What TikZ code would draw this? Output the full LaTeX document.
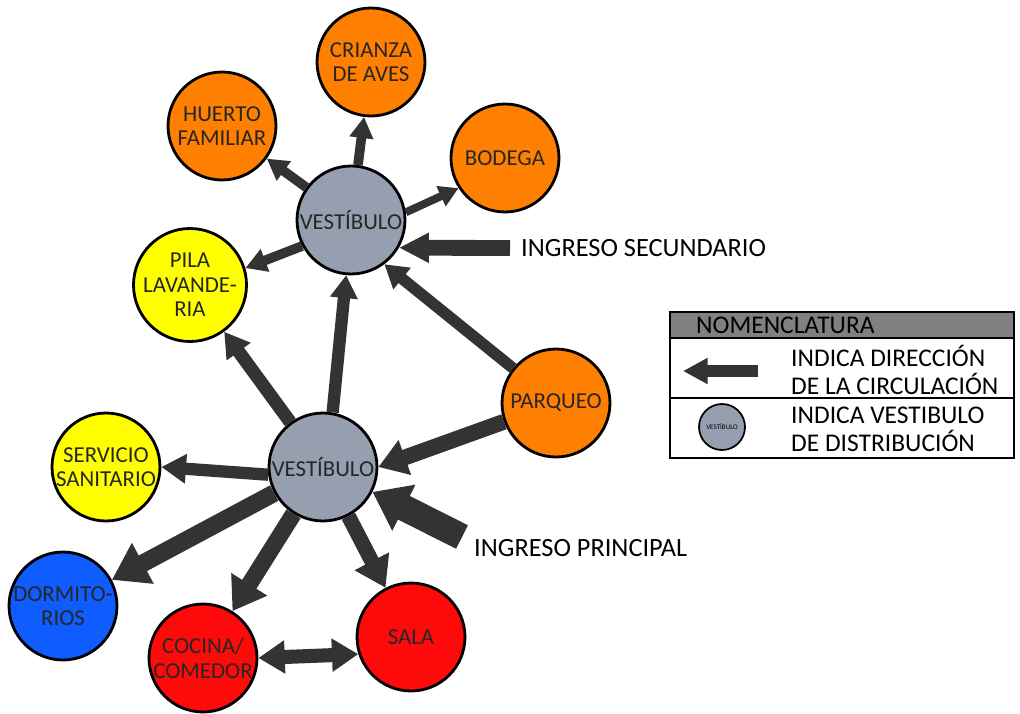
\documentclass[tikz,border=0pt]{standalone}
\usepackage{fontspec}
\setmainfont{Carlito}
\usetikzlibrary{arrows.meta}
\definecolor{naranja}{HTML}{FF8000}
\definecolor{amarillo}{HTML}{FFFF00}
\definecolor{azul}{HTML}{0F5CFF}
\definecolor{rojo}{HTML}{FF0A0A}
\definecolor{vestgris}{HTML}{969FAF}
\definecolor{flechagris}{HTML}{333333}
\definecolor{cabecera}{HTML}{808080}
\begin{document}
\begin{tikzpicture}[x=0.02cm, y=-0.02cm,
    espacio/.style={circle, draw=black, line width=1.6pt, minimum size=2.16cm,
      inner sep=0pt, align=center, text=black!85,
      font=\fontsize{13}{14}\selectfont},
    flecha/.style n args={3}{draw=flechagris, line width=#1,
      -{Triangle[length=#2, width=#3]}},
    leyenda/.style={anchor=west, align=left, font=\fontsize{14.5}{16}\selectfont},
    ingreso/.style={anchor=west, font=\fontsize{15}{17}\selectfont}]
  \useasboundingbox (0,0) rectangle (1020,713);

  % espacios
  \node[espacio, fill=naranja] (crianza) at (371,62) {CRIANZA\\DE AVES};
  \node[espacio, fill=naranja] (huerto) at (222,126) {HUERTO\\FAMILIAR};
  \node[espacio, fill=naranja] (bodega) at (505,158) {BODEGA};
  \node[espacio, fill=vestgris] (vestsec) at (351,220) {VESTÍBULO};
  \node[espacio, fill=amarillo] (pila) at (190,285) {PILA\\LAVANDE-\\RIA};
  \node[espacio, fill=naranja] (parqueo) at (556,403) {PARQUEO};
  \node[espacio, fill=vestgris] (vestppal) at (323,467) {VESTÍBULO};
  \node[espacio, fill=amarillo] (sanitario) at (106,467) {SERVICIO\\SANITARIO};
  \node[espacio, fill=azul] (dormitorios) at (63,606) {DORMITO-\\RIOS};
  \node[espacio, fill=rojo] (cocina) at (203,658) {COCINA/\\COMEDOR};
  \node[espacio, fill=rojo] (sala) at (411,637) {SALA};

  % circulacion
  \draw[flecha={5.5pt}{12pt}{13pt}] (vestsec) -- (huerto);
  \draw[flecha={5.5pt}{12pt}{13pt}] (vestsec) -- (crianza);
  \draw[flecha={4.5pt}{11pt}{12pt}] (vestsec.8) -- (bodega.213);
  \draw[flecha={5.5pt}{12pt}{13pt}] (vestsec.208) -- (pila.17);
  \draw[flecha={6.5pt}{13pt}{15pt}] (parqueo) -- (vestsec.-53);
  \draw[flecha={9pt}{16pt}{20pt}] (parqueo) -- (vestppal.east);
  \draw[flecha={7pt}{13pt}{15pt}] (vestppal.80) -- (vestsec.-95);
  \draw[flecha={7.5pt}{14pt}{16pt}] (vestppal) -- (pila);
  \draw[flecha={7pt}{14pt}{16pt}] (vestppal.188) -- (sanitario.east);
  \draw[flecha={10pt}{20pt}{25pt}] (vestppal) -- (dormitorios);
  \draw[flecha={9.5pt}{18pt}{23pt}] (vestppal) -- (cocina);
  \draw[flecha={8.5pt}{17pt}{21pt}] (vestppal) -- (sala);
  \draw[draw=flechagris, line width=8pt,
    {Triangle[length=15pt, width=18pt]}-{Triangle[length=15pt, width=18pt]}]
    (cocina.east) -- (sala.198);

  % ingresos
  \coordinate (entsec) at (510,248);
  \coordinate (entppal) at (462,537);
  \draw[flecha={9pt}{17pt}{16pt}] (entsec) -- (vestsec.-30);
  \draw[flecha={15pt}{20pt}{28pt}] (entppal) -- (vestppal);
  \node[ingreso] (txtsec) at (515,248) {INGRESO SECUNDARIO};
  \node[ingreso] (txtppal) at (468,548) {INGRESO PRINCIPAL};

  % nomenclatura
  \fill[cabecera] (670,312) rectangle (1014,338);
  \draw[line width=1pt] (670,312) rectangle (1014,458);
  \draw[line width=1pt] (670,338) -- (1014,338);
  \draw[line width=1pt] (670,398) -- (1014,398);
  \node[leyenda] (nomen) at (690,325) {NOMENCLATURA};
  \coordinate (leyini) at (758,371);
  \coordinate (leyfin) at (683,371);
  \draw[flecha={7pt}{14pt}{14pt}] (leyini) -- (leyfin);
  \node[circle, draw=black, line width=1pt, fill=vestgris, minimum size=0.92cm,
    inner sep=0pt, font=\fontsize{4}{5}\selectfont] (leyvest) at (722,427) {VESTÍBULO};
  \node[leyenda] (leydir) at (785,370) {INDICA DIRECCIÓN\\DE LA CIRCULACIÓN};
  \node[leyenda] (leydist) at (785,429) {INDICA VESTIBULO\\DE DISTRIBUCIÓN};
\end{tikzpicture}
\end{document}
